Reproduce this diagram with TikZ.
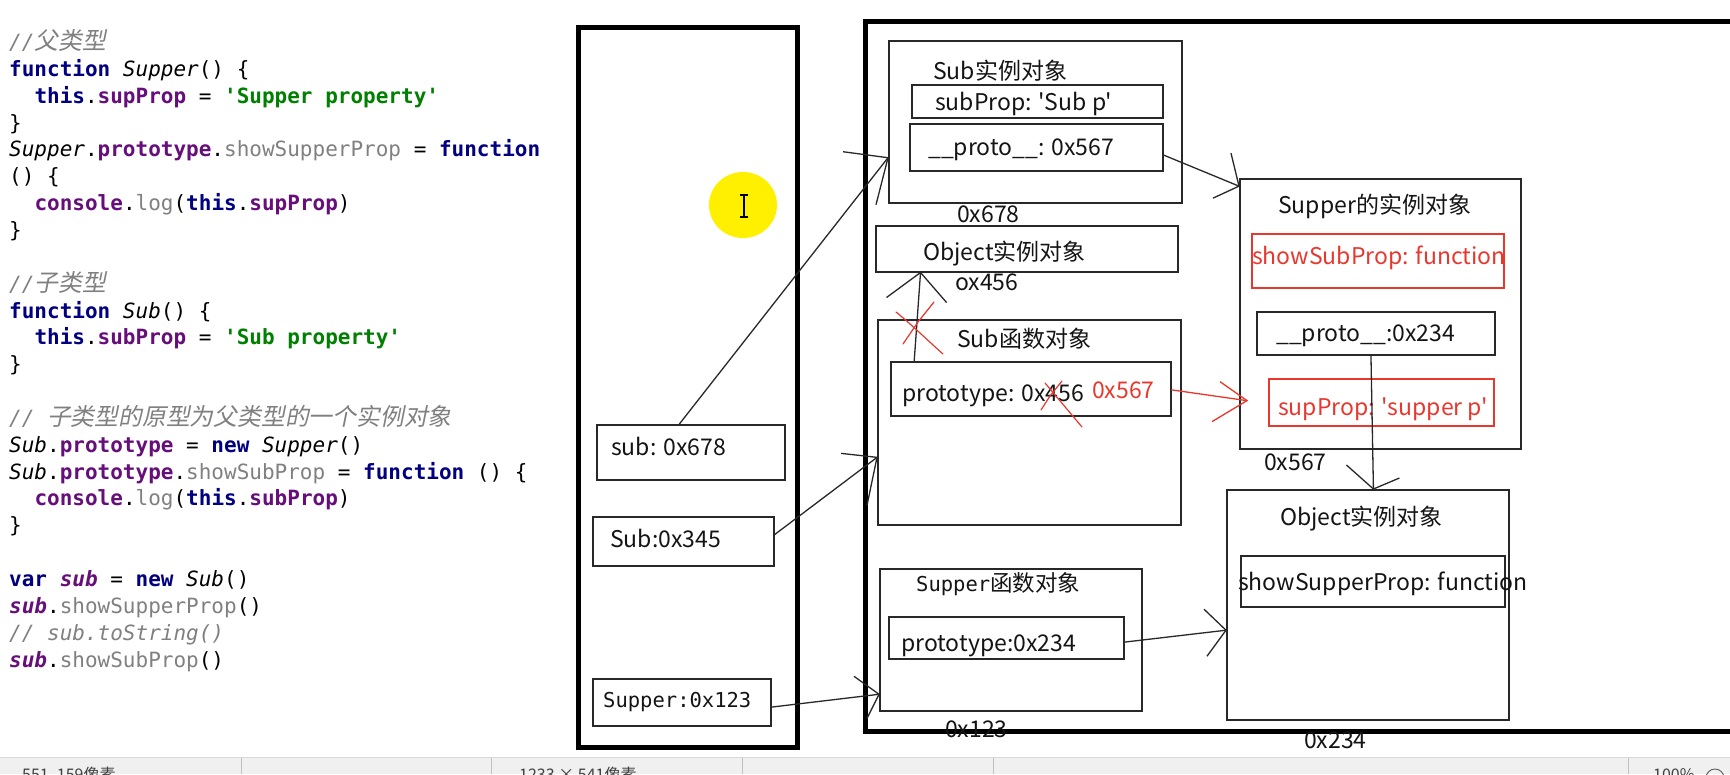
\documentclass[tikz,border=0pt]{standalone}
\usepackage{fontspec}
\usetikzlibrary{calc}
\newfontfamily\dgfont[Ligatures=TeXOff]{Noto Sans CJK SC}
\newfontfamily\codefont[Ligatures=TeXOff,BoldFont={DejaVu Sans Mono Bold},ItalicFont={DejaVu Sans Mono Oblique},BoldItalicFont={DejaVu Sans Mono Bold Oblique}]{DejaVu Sans Mono}
\newfontfamily\cjkslant[FakeSlant=0.2]{Noto Sans CJK SC}
\definecolor{kwc}{RGB}{0,0,128}
\definecolor{prc}{RGB}{102,14,122}
\definecolor{stc}{RGB}{0,128,0}
\definecolor{grc}{RGB}{128,128,128}
\definecolor{cmc}{RGB}{128,128,128}
\definecolor{lnc}{RGB}{40,40,40}
\definecolor{txc}{RGB}{20,20,20}
\definecolor{rdc}{RGB}{232,56,46}
\definecolor{ylc}{RGB}{255,240,0}
\definecolor{sbc}{RGB}{240,240,240}
\newcommand\cdkw[1]{{\bfseries\color{kwc}#1}}
\newcommand\cdpr[1]{{\bfseries\color{prc}#1}}
\newcommand\cdst[1]{{\bfseries\color{stc}#1}}
\newcommand\cdgr[1]{{\color{grc}#1}}
\newcommand\cdit[1]{{\itshape #1}}
\newcommand\cdsv[1]{{\bfseries\itshape\color{prc}#1}}
\newcommand\cdcm[1]{{\itshape\color{cmc}#1}}
\newcommand\cdcj[1]{{\cjkslant\fontsize{23.8}{26}\selectfont\color{cmc}#1}}
\begin{document}
\begin{tikzpicture}[x=1pt,y=-1pt,
  codeln/.style={anchor=base west,inner sep=0,text=black,font=\codefont\fontsize{21}{25}\selectfont},
  dtext/.style={anchor=base west,inner sep=0,text=txc,font=\dgfont\fontsize{23}{26}\selectfont},
  rtext/.style={dtext,text=rdc},
  pbox/.style={draw=lnc,line width=1.5pt,inner sep=0,anchor=north west},
  rbox/.style={pbox,draw=rdc},
  thickbox/.style={draw=black,line width=4.5pt,inner sep=0,anchor=north west},
  conn/.style={draw=lnc,line width=1.3pt},
  rconn/.style={draw=rdc,line width=1.3pt},
  redmk/.style={draw=rdc,line width=1.2pt,line cap=round}]
\useasboundingbox (0,0) rectangle (1730,774);
\fill[white] (0,0) rectangle (1730,774);
\clip (0,0) rectangle (1730,774);

% ---------- code ----------
\node[codeln] (c0) at (9,49.5) {\cdcm{//}\cdcj{父类型}};
\node[codeln] (c1) at (9,76.35) {\cdkw{function} \cdit{Supper}() \{};
\node[codeln] (c2) at (34.3,103.2) {\cdkw{this}.\cdpr{supProp} = \cdst{'Supper property'}};
\node[codeln] (c3) at (9,130.05) {\}};
\node[codeln] (c4) at (9,156.9) {\cdit{Supper}.\cdpr{prototype}.\cdgr{showSupperProp} = \cdkw{function}};
\node[codeln] (c5) at (9,183.75) {() \{};
\node[codeln] (c6) at (34.3,210.6) {\cdpr{console}.\cdgr{log}(\cdkw{this}.\cdpr{supProp})};
\node[codeln] (c7) at (9,237.45) {\}};
\node[codeln] (c9) at (9,291.15) {\cdcm{//}\cdcj{子类型}};
\node[codeln] (c10) at (9,318) {\cdkw{function} \cdit{Sub}() \{};
\node[codeln] (c11) at (34.3,344.85) {\cdkw{this}.\cdpr{subProp} = \cdst{'Sub property'}};
\node[codeln] (c12) at (9,371.7) {\}};
\node[codeln] (c14) at (9,425.4) {\cdcm{// }\cdcj{子类型的原型为父类型的一个实例对象}};
\node[codeln] (c15) at (9,452.25) {\cdit{Sub}.\cdpr{prototype} = \cdkw{new} \cdit{Supper}()};
\node[codeln] (c16) at (9,479.1) {\cdit{Sub}.\cdpr{prototype}.\cdgr{showSubProp} = \cdkw{function} () \{};
\node[codeln] (c17) at (34.3,505.95) {\cdpr{console}.\cdgr{log}(\cdkw{this}.\cdpr{subProp})};
\node[codeln] (c18) at (9,532.8) {\}};
\node[codeln] (c20) at (9,586.5) {\cdkw{var} \cdsv{sub} = \cdkw{new} \cdit{Sub}()};
\node[codeln] (c21) at (9,613.35) {\cdsv{sub}.\cdgr{showSupperProp}()};
\node[codeln] (c22) at (9,640.2) {\cdcm{// sub.toString()}};
\node[codeln] (c23) at (9,667.05) {\cdsv{sub}.\cdgr{showSubProp}()};

% ---------- stack and heap frames ----------
\node[thickbox,minimum width=219pt,minimum height=720pt] (stack) at (576,25) {};
\node[thickbox,minimum width=900pt,minimum height=710pt] (heap) at (863,19) {};

% yellow cursor highlight
\fill[ylc] (743,205) ellipse [x radius=34,y radius=33];
\draw[line width=1.1pt] (744,195) -- (744,217) (740,195) -- (748,195) (740,217) -- (748,217);

% ---------- stack boxes ----------
\node[pbox,minimum width=188pt,minimum height=55pt] (bsub) at (596,424) {};
\node[dtext] (tsub) at (611,455) {sub: 0x678};
\node[pbox,minimum width=181pt,minimum height=49pt] (bSub) at (592,516) {};
\node[dtext] (tSub) at (610,547) {Sub:0x345};
\node[pbox,minimum width=178pt,minimum height=47pt] (bSup) at (592,678) {};
\node[codeln,font=\codefont\fontsize{20.5}{24}\selectfont,text=txc] (tSup) at (603,707) {Supper:0x123};

% ---------- heap boxes ----------
\node[pbox,minimum width=293pt,minimum height=162pt] (subinst) at (888,40) {};
\node[dtext] (tsubinst) at (933,79) {Sub实例对象};
\node[pbox,minimum width=251pt,minimum height=33pt] (subprop) at (911,84) {};
\node[dtext] (tsubprop) at (935,110) {subProp: 'Sub p'};
\node[pbox,minimum width=253pt,minimum height=47pt] (subproto) at (909,123) {};
\node[dtext] (tsubproto) at (928,155) {\_\_proto\_\_: 0x567};
\node[dtext] (a678) at (957,222) {0x678};

\node[pbox,minimum width=302pt,minimum height=46pt] (objinst1) at (875,225) {};
\node[dtext] (tobj1) at (923,260) {Object实例对象};
\node[dtext] (a456) at (955,290) {ox456};

\node[pbox,minimum width=303pt,minimum height=205pt] (subfn) at (877,319) {};
\node[dtext] (tsubfn) at (957,347) {Sub函数对象};
\node[pbox,minimum width=280pt,minimum height=54pt] (subfnproto) at (890,361) {};
\node[dtext] (tsubfnproto) at (902,401) {prototype: 0x456};
\node[rtext] (tnew567) at (1092,398) {0x567};

\node[pbox,minimum width=262pt,minimum height=142pt] (supfn) at (879,568) {};
\node[codeln,font=\codefont\fontsize{20.5}{24}\selectfont,text=txc] (tsupfn) at (916,591) {Supper{\dgfont\fontsize{22.5}{26}\selectfont 函数对象}};
\node[pbox,minimum width=235pt,minimum height=42pt] (supfnproto) at (888,616) {};
\node[dtext] (tsupfnproto) at (901,651) {prototype:0x234};
\node[dtext] (a123) at (945,737) {0x123};

\node[pbox,minimum width=281pt,minimum height=270pt] (supinst) at (1239,178) {};
\node[dtext] (tsupinst) at (1278,213) {Supper的实例对象};
\node[rbox,minimum width=252pt,minimum height=54pt] (showsub) at (1251,233) {};
\node[rtext] (tshowsub) at (1252,264) {showSubProp: function};
\node[pbox,minimum width=238pt,minimum height=43pt] (supproto) at (1256,311) {};
\node[dtext] (tsupproto) at (1276,341) {\_\_proto\_\_:0x234};
\node[rbox,minimum width=225pt,minimum height=47pt] (supprop) at (1268,378) {};
\node[rtext] (tsupprop) at (1278,415) {supProp: 'supper p'};
\node[dtext] (a567) at (1264,470) {0x567};

\node[pbox,minimum width=282pt,minimum height=230pt] (objinst2) at (1226,489) {};
\node[dtext] (tobj2) at (1280,525) {Object实例对象};
\node[pbox,minimum width=264pt,minimum height=51pt] (showsup) at (1240,555) {};
\node[dtext] (tshowsup) at (1238,590) {showSupperProp: function};
\node[dtext] (a234) at (1304,748) {0x234};

% ---------- connectors ----------
\coordinate (a1s) at ($(bsub.north west)!0.44!(bsub.north east)$);
\coordinate (a1t) at ($(subinst.north west)!0.72!(subinst.south west)$);
\draw[conn] (a1s) -- (a1t);
\draw[conn] ($(a1t)+(-45,-6)$) -- (a1t) -- ($(a1t)+(-12,47)$);
\coordinate (a2s) at ($(bSub.north east)!0.37!(bSub.south east)$);
\coordinate (a2t) at ($(subfn.north west)!0.67!(subfn.south west)$);
\draw[conn] (a2s) -- (a2t);
\draw[conn] ($(a2t)+(-36,-4)$) -- (a2t) -- ($(a2t)+(-10,48)$);
\coordinate (a3s) at ($(bSup.north east)!0.6!(bSup.south east)$);
\coordinate (a3t) at ($(supfn.north west)!0.88!(supfn.south west)$);
\draw[conn] (a3s) -- (a3t);
\draw[conn] ($(a3t)+(-25,-18)$) -- (a3t) -- ($(a3t)+(-12,24)$);
\coordinate (a4s) at ($(subproto.north east)!0.66!(subproto.south east)$);
\coordinate (a4t) at ($(supinst.north west)!0.03!(supinst.south west)$);
\draw[conn] (a4s) -- (a4t);
\draw[conn] ($(a4t)+(-8,-33)$) -- (a4t) -- ($(a4t)+(-26,12)$);
\coordinate (a5s) at ($(subfnproto.north west)!0.086!(subfnproto.north east)$);
\coordinate (a5t) at ($(objinst1.south west)!0.15!(objinst1.south east)$);
\draw[conn] (a5s) -- (a5t);
\draw[conn] ($(a5t)+(-34,25)$) -- (a5t) -- ($(a5t)+(26,30)$);
\coordinate (a6s) at ($(subfnproto.north east)!0.52!(subfnproto.south east)$);
\coordinate (a6t) at ($(supinst.north west)!0.82!(supinst.south west)+(8,0)$);
\draw[rconn] (a6s) -- (a6t);
\draw[rconn] ($(a6t)+(-27,-19)$) -- (a6t) -- ($(a6t)+(-35,21)$);
\coordinate (a7s) at ($(supproto.south west)!0.48!(supproto.south east)$);
\coordinate (a7t) at ($(objinst2.north west)!0.52!(objinst2.north east)$);
\draw[conn] (a7s) -- (a7t);
\draw[conn] ($(a7t)+(-27,-24)$) -- (a7t) -- ($(a7t)+(26,-11)$);
\coordinate (a8s) at ($(supfnproto.north east)!0.6!(supfnproto.south east)$);
\coordinate (a8t) at ($(objinst2.north west)!0.61!(objinst2.south west)$);
\draw[conn] (a8s) -- (a8t);
\draw[conn] ($(a8t)+(-22,-21)$) -- (a8t) -- ($(a8t)+(-19,26)$);

% red cross marks
\draw[redmk] (896,312) .. controls (912,325) and (925,338) .. (943,354);
\draw[redmk] (934,302) -- (918,322) -- (903,344);
\draw[redmk] (1045,383) -- (1082,427);
\draw[redmk] (1062,381) -- (1050,396) -- (1041,410);

% ---------- status bar ----------
\fill[sbc] (0,757) rectangle (1730,774);
\draw[black!15,line width=1pt] (0,757) -- (1730,757);
\draw[black!25,line width=1pt] (241,758) -- (241,774) (491,758) -- (491,774) (742,758) -- (742,774) (993,758) -- (993,774) (1628,758) -- (1628,774);
\node[anchor=base west,inner sep=0,text=black!75,font=\dgfont\fontsize{16}{18}\selectfont] (sb1) at (22,780) {551, 159像素};
\node[anchor=base west,inner sep=0,text=black!75,font=\dgfont\fontsize{16}{18}\selectfont] (sb2) at (519,780) {1233 × 541像素};
\node[anchor=base west,inner sep=0,text=black!75,font=\dgfont\fontsize{16}{18}\selectfont] (sb3) at (1653,780) {100\%};
\draw[black!60,line width=1pt] (1715,778) circle [radius=9];
\end{tikzpicture}
\end{document}
